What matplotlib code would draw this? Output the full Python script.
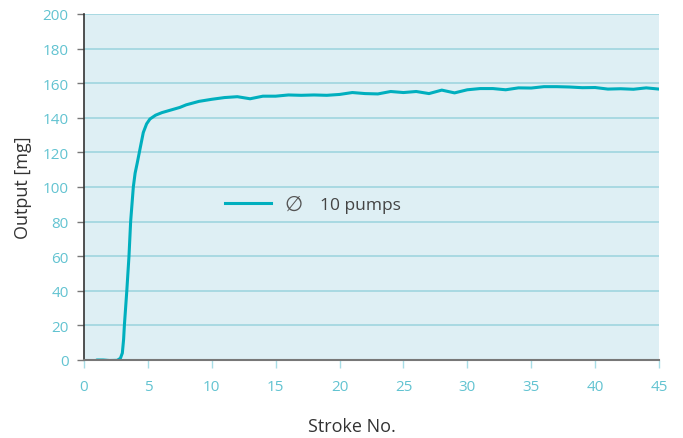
import matplotlib
matplotlib.use("Agg")
import matplotlib.pyplot as plt

stroke = [1, 1.5, 2, 2.6, 2.85, 3.0, 3.1, 3.16, 3.35, 3.52, 3.65, 3.86, 4.0, 4.17, 4.33, 4.64, 4.9, 5.16, 5.6, 6.1, 7.5, 8, 9, 10, 11, 12, 13, 14, 15, 16, 17, 18, 19, 20, 21, 22,
          23, 24, 25, 26, 27, 28, 29, 30, 31, 32, 33, 34, 35, 36, 37, 38, 39, 40, 41, 42, 43, 44, 45]
output = [0, 0, -0.3, -0.2, 1, 4, 12, 20, 40, 60, 80, 100, 108, 114, 120, 131.5, 136.5, 139.3, 141.5, 143, 146, 147.5, 149.5, 150.7, 151.7, 152.2, 151, 152.5, 152.5, 153.2, 153, 153.2, 153, 153.5, 154.6, 154, 153.8,
          155.2, 154.6, 155.2, 154, 156, 154.4, 156.2, 156.9, 156.9, 156.2, 157.3, 157.2, 158, 158, 157.8, 157.4, 157.5, 156.6, 156.8, 156.5, 157.3, 156.6]
xticks = [0, 5, 10, 15, 20, 25, 30, 35, 40, 45]
yticks = [0, 20, 40, 60, 80, 100, 120, 140, 160, 180, 200]
legend_label = "10 pumps"

plt.rcParams['font.family'] = ['Open Sans', 'DejaVu Sans']
fig = plt.figure(figsize=(6.83, 4.39), dpi=100)
ax = fig.add_axes([84/683, 1-361/439, 575/683, 346/439])
ax.set_facecolor('#deeff4')
tick_col = '#62c3d1'
grid_col = '#9fd5df'
for y in yticks[1:]:
    ax.axhline(y, color=grid_col, lw=1.2, zorder=1)
ax.plot(stroke, output, color='#00afbe', lw=2.2, zorder=3, solid_capstyle='round', solid_joinstyle='round')
ax.set_xlim(0, 45)
ax.set_ylim(0, 200)
ax.set_xticks(xticks)
ax.set_yticks(yticks)
ax.tick_params(axis='x', colors=tick_col, labelsize=11, length=6, width=1, pad=8)
ax.tick_params(axis='y', colors='#777777', labelcolor=tick_col, labelsize=11, length=5, width=1, pad=6)
ax.tick_params(axis='x', color='#a8dde6')
for s in ['top', 'right']:
    ax.spines[s].set_visible(False)
ax.spines['left'].set_color('#333333')
ax.spines['left'].set_linewidth(1.2)
ax.spines['bottom'].set_color('#777777')
ax.spines['bottom'].set_linewidth(1.5)
ax.spines['bottom'].set_zorder(4)

# legend
ax.plot([11.0, 14.6], [90.5, 90.5], color='#00afbe', lw=2.2, zorder=3)
ax.text(15.7, 90.5, "\u2205", fontsize=15, color='#555555', ha='left', va='center', family=['DejaVu Sans'])
ax.text(18.5, 89.5, legend_label, fontsize=12.5, color='#444444', ha='left', va='center')

fig.text(23/683, 1-188/439, "Output [mg]", rotation=90, fontsize=13, color='#333333', ha='center', va='center')
fig.text(352/683, 1-427/439, "Stroke No.", fontsize=13, color='#333333', ha='center', va='center')

fig.savefig('out.png', dpi=100)
